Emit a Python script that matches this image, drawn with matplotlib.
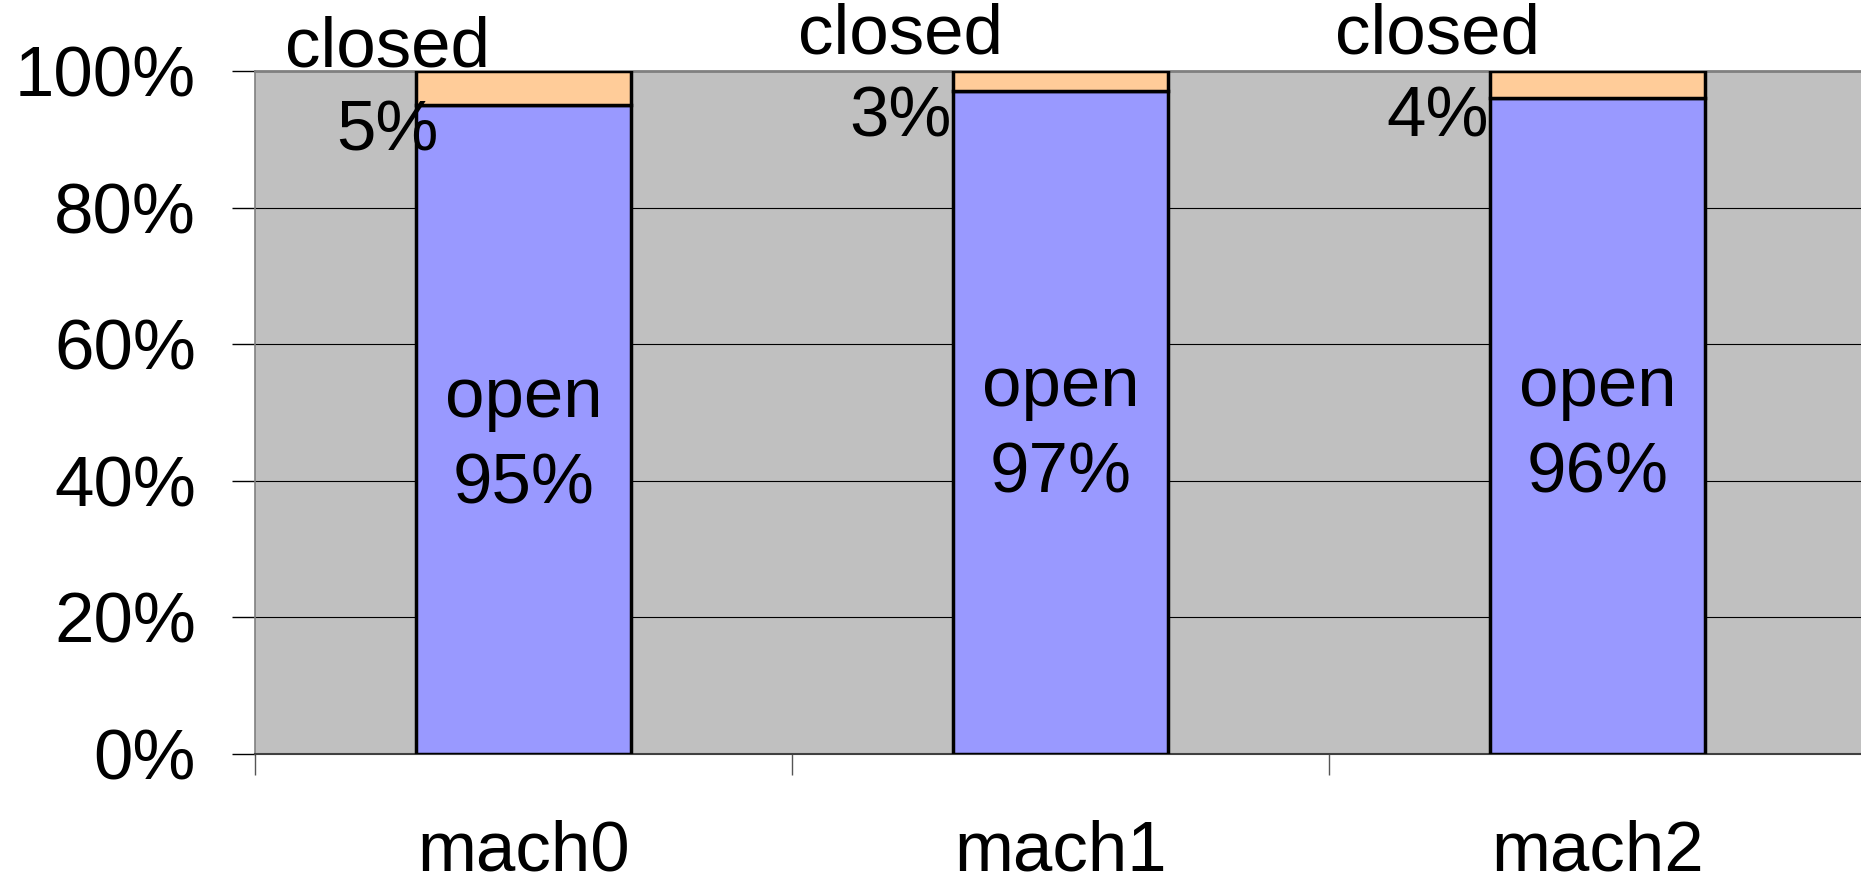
import numpy as np
import matplotlib.pyplot as plt

# data
machines = ["mach0", "mach1", "mach2"]
open_pct = [95, 97, 96]
closed_pct = [5, 3, 4]

plt.rcParams['font.family'] = ['Liberation Sans', 'DejaVu Sans']

fig = plt.figure(figsize=(18.61, 8.82), dpi=100)
ax = fig.add_axes([0.137, 0.1451, 0.8657, 0.7744])
ax.set_facecolor("#c0c0c0")

x = np.arange(len(machines))
ax.bar(x, open_pct, width=0.4, color="#9999ff", edgecolor="black", linewidth=2.5, zorder=3)
ax.bar(x, closed_pct, width=0.4, bottom=open_pct, color="#ffcc99",
       edgecolor="black", linewidth=2.5, zorder=3)

# labels (offsets just)
dx = [-0.254, -0.298, -0.298]
dy_closed = [103.3, 105.2, 105.2]
dy_pct = [91.0, 93.0, 93.0]
dy_open = [45.6, 47.3, 47.3]
fs = 51
for i in range(len(machines)):
    ax.text(x[i] + dx[i], dy_closed[i], "closed", ha="center", va="center",
            fontsize=fs, clip_on=False, zorder=5)
    ax.text(x[i] + dx[i], dy_pct[i], f"{closed_pct[i]}%", ha="center", va="center",
            fontsize=fs, zorder=5)
    ax.text(x[i], dy_open[i], f"open\n{open_pct[i]}%", ha="center", va="center",
            fontsize=fs, linespacing=1.4, zorder=5)

ax.set_xlim(-0.5, 2.5)
ax.set_ylim(0, 100)
ax.set_yticks(np.arange(0, 101, 20))
ax.set_yticklabels([f"{v}%" for v in range(0, 101, 20)], fontsize=fs)
ax.yaxis.grid(True, color="black", linewidth=0.8, zorder=1)
ax.set_axisbelow(True)

ax.set_xticks(x)
ax.set_xticklabels(machines, fontsize=fs)
ax.set_xticks([-0.5, 0.5, 1.5, 2.5], minor=True)
ax.tick_params(axis="x", which="major", length=0, pad=47)
ax.tick_params(axis="x", which="minor", length=15, width=1, color="#555555")
ax.tick_params(axis="y", length=16.5, width=1, pad=26, color="black")

ax.spines["right"].set_visible(False)
ax.spines["top"].set_color("#808080")
ax.spines["top"].set_linewidth(2)
ax.spines["left"].set_color("#808080")
ax.spines["left"].set_linewidth(1.2)
ax.spines["bottom"].set_color("#404040")
ax.spines["bottom"].set_linewidth(1.5)

fig.savefig("out.png", dpi=100)
